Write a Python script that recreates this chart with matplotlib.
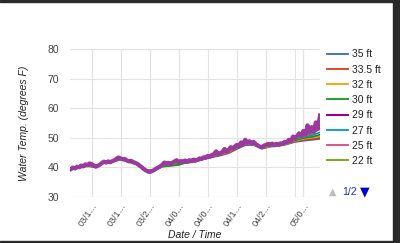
import numpy as np
import matplotlib.pyplot as plt
from matplotlib.patches import Rectangle

plt.rcParams['font.family'] = ['Liberation Sans', 'DejaVu Sans']

# days counted from 03/01, half-day samples for the 29 ft series
days_fine = np.arange(5, 65.01, 0.5)
temp_29 = [39.4, 39.9, 39.6, 40.2, 40.0, 40.6, 40.3, 41.0, 40.7, 41.3, 41.1,
           40.6, 40.2, 40.5, 40.9, 41.5, 41.9, 41.6, 42.0, 41.7, 42.1,
           42.4, 42.9, 43.3, 43.0, 42.7, 42.8, 42.3, 42.0, 42.2, 41.8,
           41.5, 41.2, 40.6, 40.1, 39.5, 39.0, 38.6, 38.4, 38.7, 39.0,
           39.5, 39.9, 40.3, 40.8, 41.6, 41.2, 41.5, 41.1, 41.6, 42.0,
           42.4, 41.7, 42.1, 41.8, 42.3, 41.9, 42.4, 42.1, 42.6, 42.3,
           42.5, 43.0, 42.8, 43.4, 43.2, 43.9, 43.6, 44.2, 44.5, 45.4,
           44.4, 44.8, 45.2, 46.2, 45.3, 45.9, 46.8, 46.4, 47.0, 47.6,
           47.2, 48.4, 47.8, 49.3, 48.3, 48.8, 48.1, 48.6, 47.9, 47.4,
           47.0, 46.8, 47.3, 47.6, 47.9, 47.6, 48.0, 47.5, 47.9, 47.7,
           48.1, 47.9, 48.6, 48.4, 49.3, 48.9, 50.4, 49.8, 50.6, 51.5,
           50.6, 52.3, 51.0, 54.2, 51.8, 53.6, 52.0, 55.2, 53.0, 57.5]

# the other depths, every second day
days = np.arange(5, 65.01, 2)
temp_35 = [39.2, 39.8, 40.4, 40.0, 41.5, 41.8, 42.6, 41.8, 40.9, 38.8,
           38.8, 40.4, 40.6, 41.2, 41.5, 41.9, 42.8, 43.4, 44.0, 44.8,
           46.2, 47.5, 47.6, 46.3, 47.0, 47.2, 47.8, 48.6, 49.0, 49.3, 49.6]
temp_33_5 = [39.3, 39.9, 40.5, 40.1, 41.6, 41.9, 42.7, 41.9, 41.0, 38.9,
             38.9, 40.5, 40.7, 41.3, 41.6, 42.0, 42.9, 43.6, 44.2, 45.0,
             46.5, 47.8, 47.8, 46.4, 47.1, 47.3, 47.9, 48.8, 49.3, 49.6, 50.0]
temp_32 = [39.3, 39.9, 40.5, 40.1, 41.6, 41.9, 42.8, 41.9, 41.0, 38.9,
           38.9, 40.6, 40.8, 41.4, 41.7, 42.1, 43.1, 43.8, 44.4, 45.3,
           46.8, 48.1, 48.0, 46.5, 47.2, 47.4, 48.0, 49.0, 49.6, 50.0, 50.5]
temp_30 = [39.3, 39.9, 40.6, 40.1, 41.7, 42.0, 42.8, 41.9, 41.1, 38.9,
           38.9, 40.2, 40.5, 40.8, 41.7, 42.1, 43.2, 43.9, 44.5, 45.5,
           47.0, 48.4, 48.2, 46.6, 47.3, 47.5, 48.1, 49.2, 49.9, 50.3, 51.0]
temp_27 = [39.4, 40.0, 40.6, 40.2, 41.8, 42.0, 42.9, 42.0, 41.1, 39.0,
           39.0, 40.7, 41.0, 41.6, 41.8, 42.2, 43.3, 44.0, 44.6, 45.7,
           47.3, 48.8, 48.4, 46.7, 47.4, 47.6, 48.3, 49.5, 50.2, 50.8, 51.8]
temp_25 = [39.4, 40.0, 40.7, 40.2, 41.8, 42.1, 42.9, 42.0, 41.2, 39.0,
           39.0, 40.7, 41.0, 41.6, 41.9, 42.3, 43.4, 44.1, 44.7, 45.8,
           47.5, 49.0, 48.5, 46.8, 47.5, 47.7, 48.4, 49.7, 50.5, 51.3, 53.0]
temp_22 = [39.4, 40.0, 40.7, 40.2, 41.9, 42.1, 43.0, 42.0, 41.2, 39.0,
           39.0, 40.8, 41.1, 41.7, 41.9, 42.3, 43.4, 44.2, 44.8, 45.9,
           47.6, 49.2, 48.6, 46.8, 47.6, 47.7, 48.4, 49.8, 50.6, 51.6, 54.0]

labels = ['35 ft', '33.5 ft', '32 ft', '30 ft', '29 ft', '27 ft', '25 ft', '22 ft']
colors = ['#3366cc', '#dc3912', '#ff9900', '#109618', '#990099', '#0099c6', '#dd4477', '#66aa00']

tick_days = [10, 17, 24, 31, 38, 45, 52, 59, 61]
tick_labels = ['03/1…', '03/1…', '03/2…', '04/0…', '04/0…', '04/1…', '04/2…', '', '05/0…']

fig = plt.figure(figsize=(4, 2.43), dpi=100)
ax = fig.add_axes([0.175, 0.19, 0.625, 0.608])

series = [temp_35, temp_33_5, temp_32, temp_30, None, temp_27, temp_25, temp_22]
handles = []
for vals, lab, col in zip(series, labels, colors):
    if vals is None:
        # 29 ft sits on top of the others
        ax.plot(days_fine, temp_29, color='#9b3a9e', lw=3.0, zorder=5)
        line, = ax.plot([], [], color=col, lw=1.5)
    else:
        line, = ax.plot(days, vals, color=col, lw=1.3, zorder=3)
    handles.append(line)

ax.set_xlim(4.8, 65)
ax.set_ylim(30, 80)
ax.set_yticks([30, 40, 50, 60, 70, 80])
ax.set_xticks(tick_days)
ax.set_xticklabels(tick_labels, rotation=56, ha='right', rotation_mode='anchor')
ax.tick_params(length=0, labelsize=7.5, colors='#444444')
ax.tick_params(axis='x', labelsize=6.5, pad=3)
ax.tick_params(axis='y', pad=8)
ax.grid(True, color='#e3e3e3', lw=0.8)
for d in [31, 61]:
    ax.axvline(d, color='#cccccc', lw=0.8, zorder=1)
ax.axhline(30, color='#cccccc', lw=0.8, zorder=1)
for s in ax.spines.values():
    s.set_visible(False)

ax.set_ylabel('Water Temp. (degrees F)', fontsize=7.5, style='italic', color='#222222', labelpad=13)
ax.set_xlabel('Date / Time', fontsize=7.5, style='italic', color='#222222')
ax.xaxis.set_label_coords(0.5, -0.225)

fig.legend(handles, labels, loc='upper left', bbox_to_anchor=(0.795, 0.835),
           frameon=False, fontsize=7.5, handlelength=2.0, handletextpad=0.4,
           labelspacing=0.5, labelcolor='#222222')

fig.text(0.832, 0.21, '▲', color='#bbbbbb', fontsize=7, ha='center', va='center', family='DejaVu Sans')
fig.text(0.875, 0.21, '1/2', color='#2233aa', fontsize=7.5, ha='center', va='center')
fig.text(0.912, 0.21, '▼', color='#0000cc', fontsize=9, ha='center', va='center', family='DejaVu Sans')

# dark frame edges of the screenshot
fig.patches.append(Rectangle((0.983, 0), 0.02, 1, transform=fig.transFigure, color='#2a2a2a', zorder=10))
fig.patches.append(Rectangle((0, 0), 1, 0.008, transform=fig.transFigure, color='#2a2a2a', zorder=10))
fig.patches.append(Rectangle((0, 0.99), 1, 0.01, transform=fig.transFigure, color='#2a2a2a', zorder=10))

fig.savefig('out.png', dpi=100)
